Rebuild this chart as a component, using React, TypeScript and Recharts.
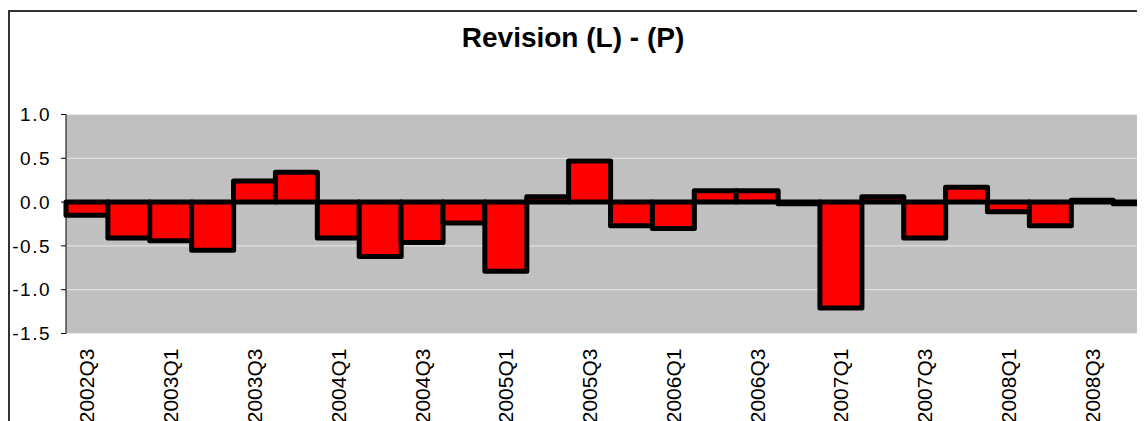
import React from "react"
import { BarChart, Bar, XAxis, YAxis, CartesianGrid, ReferenceLine } from "recharts"

const quarters = [
  "2002Q3", "2002Q4", "2003Q1", "2003Q2", "2003Q3", "2003Q4",
  "2004Q1", "2004Q2", "2004Q3", "2004Q4", "2005Q1", "2005Q2",
  "2005Q3", "2005Q4", "2006Q1", "2006Q2", "2006Q3", "2006Q4",
  "2007Q1", "2007Q2", "2007Q3", "2007Q4", "2008Q1", "2008Q2",
  "2008Q3", "2008Q4",
]

const revision = [
  -0.15, -0.41, -0.44, -0.55, 0.24, 0.34,
  -0.41, -0.62, -0.46, -0.24, -0.79, 0.06,
  0.47, -0.27, -0.3, 0.13, 0.13, -0.02,
  -1.21, 0.06, -0.41, 0.17, -0.11, -0.27,
  0.02, -0.02,
]

const yTicks = [-1.5, -1.0, -0.5, 0.0, 0.5, 1.0]

const data = quarters.map((q, i) => ({ quarter: q, value: revision[i] }))

const font = "'Liberation Sans', Arial, sans-serif"

function QuarterTick(props: any) {
  const { x, y, payload } = props
  const ty = y + 15
  return (
    <text
      x={x}
      y={ty}
      dy="0.36em"
      transform={`rotate(-90, ${x}, ${ty})`}
      textAnchor="end"
      fontSize={21}
      fontFamily={font}
      fill="#000"
    >
      {payload.value}
    </text>
  )
}

export default function App() {
  return (
    <div style={{ width: 1137, height: 413, overflow: "hidden" }}>
      <div
        style={{
          position: "relative",
          marginTop: 2,
          width: 1180,
          height: 430,
          borderLeft: "2px solid #333",
          borderTop: "2px solid #333",
          background: "#fff",
        }}
      >
        <div
          style={{
            position: "absolute",
            left: 0,
            top: 12,
            width: 1126,
            textAlign: "center",
            fontFamily: font,
            fontWeight: "bold",
            fontSize: 28,
            lineHeight: "28px",
            color: "#000",
          }}
        >
          Revision (L) - (P)
        </div>
        <BarChart
          width={1170}
          height={420}
          data={data}
          margin={{ top: 102.5, right: 25, bottom: 0, left: 0 }}
          barCategoryGap={0}
          barGap={0}
        >
          <CartesianGrid vertical={false} stroke="#e8e8e8" fill="#c0c0c0" fillOpacity={1} />
          <XAxis
            dataKey="quarter"
            interval={1}
            axisLine={false}
            tickLine={false}
            tickSize={0}
            tickMargin={0}
            height={98.5}
            tick={<QuarterTick />}
          />
          <YAxis
            domain={[-1.5, 1]}
            ticks={yTicks}
            width={56}
            tickSize={5}
            tickMargin={10}
            axisLine={{ stroke: "#000" }}
            tickLine={{ stroke: "#000" }}
            tickFormatter={(v: number) => v.toFixed(1)}
            tick={{ fontSize: 19, fontFamily: font, fill: "#000", letterSpacing: 1.5 }}
          />
          <ReferenceLine y={0} stroke="#000" strokeWidth={1} />
          <Bar
            dataKey="value"
            fill="#ff0000"
            stroke="#000"
            strokeWidth={5}
            strokeLinejoin="round"
            isAnimationActive={false}
          />
        </BarChart>
      </div>
    </div>
  )
}
